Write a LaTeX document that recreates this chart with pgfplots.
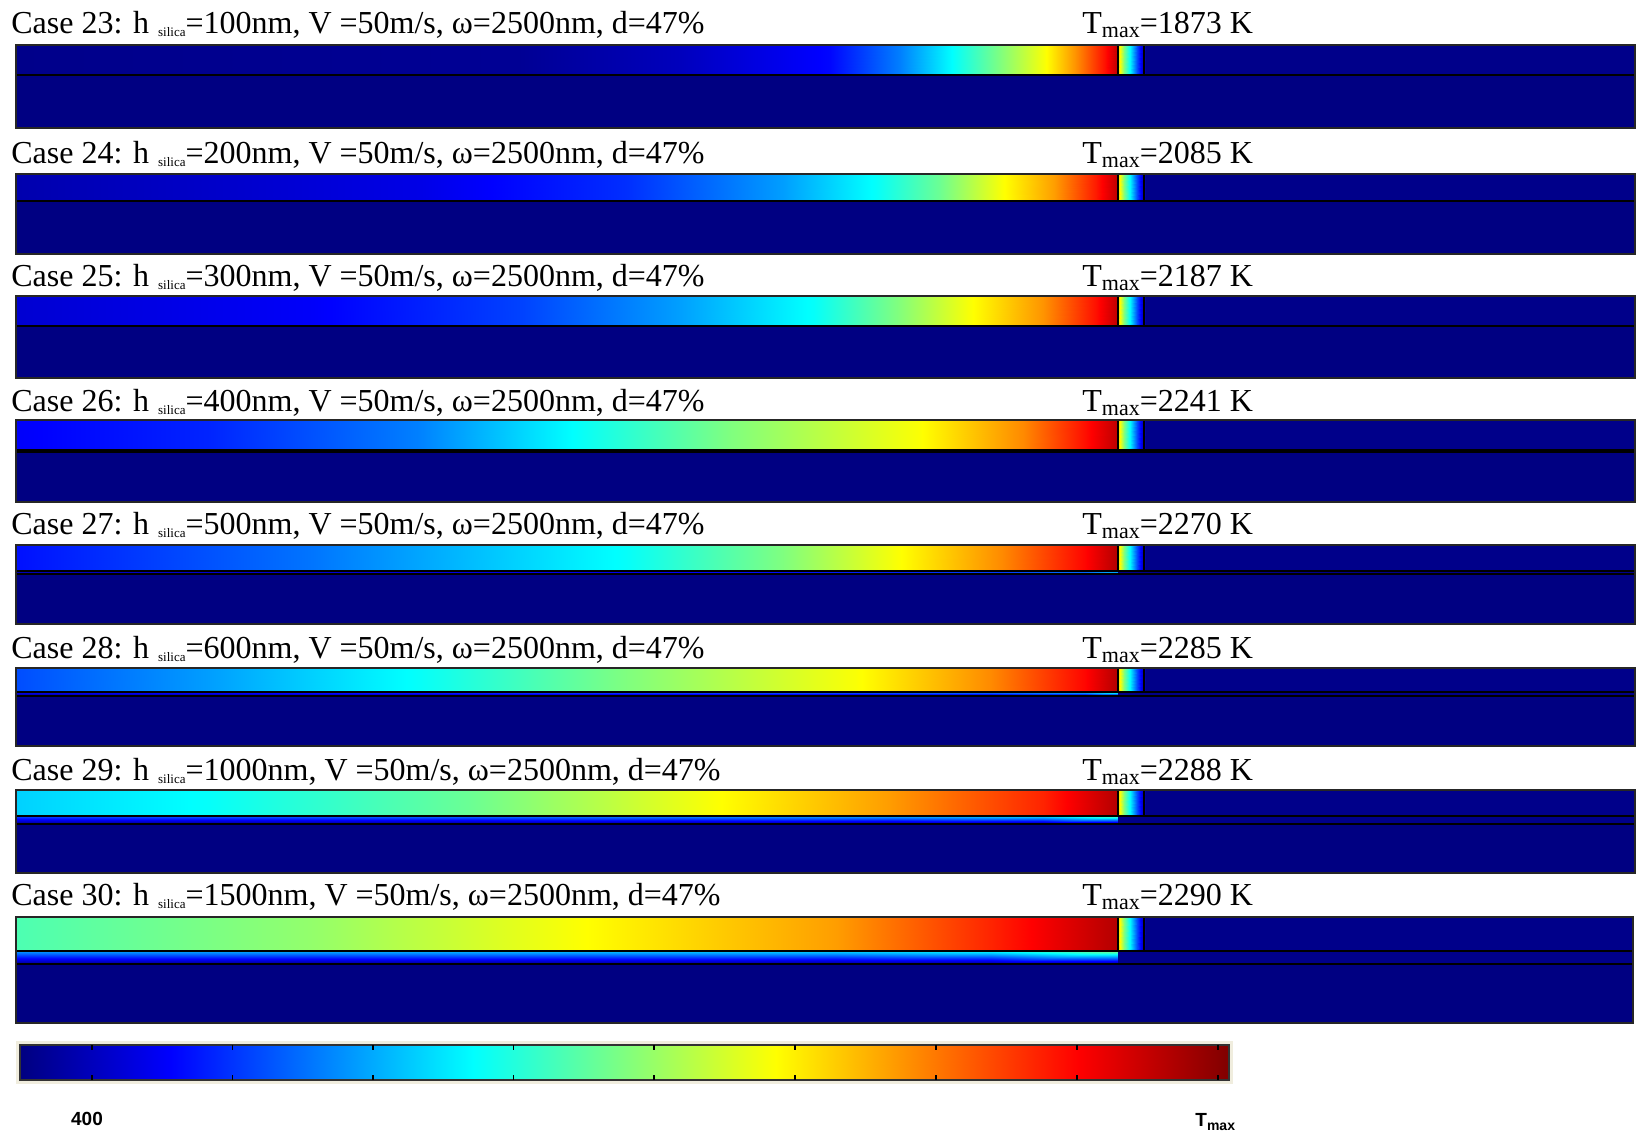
\documentclass[border=0pt]{standalone}
\usepackage{fontspec}
\setmainfont{Liberation Serif}
\setsansfont{Liberation Sans}
\usepackage{pgfplots}
\pgfplotsset{compat=1.18}
\definecolor{navy}{RGB}{0,0,130}
\definecolor{frametan}{RGB}{240,237,222}
\newcommand\ttl[2]{\fontsize{16}{18}\selectfont Case #1: h\hspace{4.5pt}\raisebox{-1.5pt}{\fontsize{6.5}{7}\selectfont silica}=#2nm, V =50m/s, ω=2500nm, d=47\%}
\newcommand\tmx[1]{\fontsize{16}{18}\selectfont T\raisebox{-2pt}{\fontsize{11}{12}\selectfont max}=#1 K}
\newcommand\panel[4]{%
  \draw[black, line width=1pt] (axis cs:16,#2) -- (axis cs:1635,#2);
  \draw[black, line width=1pt] (axis cs:16,#3) -- (axis cs:1635,#3);
  \draw[black, line width=1pt] (axis cs:1118,#1) -- (axis cs:1118,#2);
  \draw[black, line width=1pt] (axis cs:1144,#1) -- (axis cs:1144,#2);
  \draw[black!85, line width=1pt] (axis cs:16,#1) rectangle (axis cs:1635,#4);
}
\begin{document}
\begin{tikzpicture}
\begin{axis}[scale only axis, width=818pt, height=569.5pt,
  xmin=0, xmax=1636, ymin=0, ymax=1139, axis lines=none, clip=false,
  colormap/jet, point meta min=0, point meta max=1,
  heat/.style={surf, shader=interp, point meta=explicit, forget plot}]
\path (axis cs:0,0) rectangle (axis cs:1636,1139);
% ---------------- Case 23
\addplot[fill=navy, draw=none, forget plot] coordinates {(16,1064) (1635,1064) (1635,1011) (16,1011)};
\addplot[heat, mesh/rows=2] table[row sep=\\, meta=c] {x y c\\
16 1094 .01\\ 520 1094 .02\\ 680 1094 .06\\ 830 1094 .13\\ 900 1094 .25\\ 950 1094 .37\\ 1000 1094 .5\\ 1045 1094 .62\\ 1075 1094 .73\\ 1105 1094 .86\\ 1117.9 1094 .94\\ 1118.1 1094 .68\\ 1124 1094 .5\\ 1130 1094 .37\\ 1137 1094 .2\\ 1143 1094 .07\\ 1146 1094 .01\\ 1635 1094 .01\\
16 1064 .01\\ 520 1064 .02\\ 680 1064 .06\\ 830 1064 .13\\ 900 1064 .25\\ 950 1064 .37\\ 1000 1064 .5\\ 1045 1064 .62\\ 1075 1064 .73\\ 1105 1064 .86\\ 1117.9 1064 .94\\ 1118.1 1064 .68\\ 1124 1064 .5\\ 1130 1064 .37\\ 1137 1064 .2\\ 1143 1064 .07\\ 1146 1064 .01\\ 1635 1064 .01\\
};
\panel{1094}{1064}{1064}{1011}
\node[anchor=base west, inner sep=0] at (axis cs:11,1105) {\ttl{23}{100}};
\node[anchor=base west, inner sep=0] at (axis cs:1082,1105) {\tmx{1873}};
% ---------------- Case 24
\addplot[fill=navy, draw=none, forget plot] coordinates {(16,938) (1635,938) (1635,885) (16,885)};
\addplot[heat, mesh/rows=2] table[row sep=\\, meta=c] {x y c\\
16 965 .045\\ 417 965 .1\\ 626 965 .17\\ 783 965 .28\\ 876 965 .38\\ 939 965 .48\\ 1002 965 .62\\ 1054 965 .72\\ 1096 965 .85\\ 1117.9 965 .94\\ 1118.1 965 .68\\ 1124 965 .5\\ 1130 965 .37\\ 1137 965 .2\\ 1143 965 .07\\ 1146 965 .01\\ 1635 965 .01\\
16 938 .045\\ 417 938 .1\\ 626 938 .17\\ 783 938 .28\\ 876 938 .38\\ 939 938 .48\\ 1002 938 .62\\ 1054 938 .72\\ 1096 938 .85\\ 1117.9 938 .94\\ 1118.1 938 .68\\ 1124 938 .5\\ 1130 938 .37\\ 1137 938 .2\\ 1143 938 .07\\ 1146 938 .01\\ 1635 938 .01\\
};
\panel{965}{938}{938}{885}
\node[anchor=base west, inner sep=0] at (axis cs:11,975) {\ttl{24}{200}};
\node[anchor=base west, inner sep=0] at (axis cs:1082,975) {\tmx{2085}};
% ---------------- Case 25
\addplot[fill=navy, draw=none, forget plot] coordinates {(16,813) (1635,813) (1635,761) (16,761)};
\addplot[heat, mesh/rows=2] table[row sep=\\, meta=c] {x y c\\
16 843 .08\\ 313 843 .12\\ 522 843 .19\\ 678 843 .28\\ 814 843 .38\\ 897 843 .5\\ 970 843 .62\\ 1043 843 .73\\ 1096 843 .86\\ 1117.9 843 .94\\ 1118.1 843 .68\\ 1124 843 .5\\ 1130 843 .37\\ 1137 843 .2\\ 1143 843 .07\\ 1146 843 .01\\ 1635 843 .01\\
16 813 .08\\ 313 813 .12\\ 522 813 .19\\ 678 813 .28\\ 814 813 .38\\ 897 813 .5\\ 970 813 .62\\ 1043 813 .73\\ 1096 813 .86\\ 1117.9 813 .94\\ 1118.1 813 .68\\ 1124 813 .5\\ 1130 813 .37\\ 1137 813 .2\\ 1143 813 .07\\ 1146 813 .01\\ 1635 813 .01\\
};
\panel{843}{813}{813}{761}
\node[anchor=base west, inner sep=0] at (axis cs:11,852) {\ttl{25}{300}};
\node[anchor=base west, inner sep=0] at (axis cs:1082,852) {\tmx{2187}};
% ---------------- Case 26
\addplot[fill=navy, draw=none, forget plot] coordinates {(16,687) (1635,687) (1635,637) (16,637)};
\addplot[heat, mesh/rows=4] table[row sep=\\, meta=c] {x y c\\
16 719 .12\\ 209 719 .16\\ 417 719 .25\\ 553 719 .36\\ 730 719 .5\\ 918 719 .62\\ 1023 719 .74\\ 1085 719 .86\\ 1117.9 719 .94\\ 1118.1 719 .68\\ 1124 719 .5\\ 1130 719 .37\\ 1137 719 .2\\ 1143 719 .07\\ 1146 719 .01\\ 1635 719 .01\\
16 689 .12\\ 209 689 .16\\ 417 689 .25\\ 553 689 .36\\ 730 689 .5\\ 918 689 .62\\ 1023 689 .74\\ 1085 689 .86\\ 1117.9 689 .94\\ 1118.1 689 .68\\ 1124 689 .5\\ 1130 689 .37\\ 1137 689 .2\\ 1143 689 .07\\ 1146 689 .01\\ 1635 689 .01\\
16 689 .07\\ 209 689 .09\\ 417 689 .12\\ 553 689 .15\\ 730 689 .18\\ 918 689 .22\\ 1023 689 .26\\ 1085 689 .32\\ 1117.9 689 .4\\ 1118.1 689 .01\\ 1124 689 .01\\ 1130 689 .01\\ 1137 689 .01\\ 1143 689 .01\\ 1146 689 .01\\ 1635 689 .01\\
16 687 .01\\ 209 687 .01\\ 417 687 .01\\ 553 687 .01\\ 730 687 .01\\ 918 687 .01\\ 1023 687 .01\\ 1085 687 .01\\ 1117.9 687 .01\\ 1118.1 687 .01\\ 1124 687 .01\\ 1130 687 .01\\ 1137 687 .01\\ 1143 687 .01\\ 1146 687 .01\\ 1635 687 .01\\
};
\panel{719}{689}{687}{637}
\node[anchor=base west, inner sep=0] at (axis cs:11,727) {\ttl{26}{400}};
\node[anchor=base west, inner sep=0] at (axis cs:1082,727) {\tmx{2241}};
% ---------------- Case 27
\addplot[fill=navy, draw=none, forget plot] coordinates {(16,565) (1635,565) (1635,515) (16,515)};
\addplot[heat, mesh/rows=4] table[row sep=\\, meta=c] {x y c\\
16 594 .14\\ 313 594 .24\\ 626 594 .38\\ 783 594 .5\\ 897 594 .62\\ 1002 594 .74\\ 1085 594 .87\\ 1117.9 594 .95\\ 1118.1 594 .68\\ 1124 594 .5\\ 1130 594 .37\\ 1137 594 .2\\ 1143 594 .07\\ 1146 594 .01\\ 1635 594 .01\\
16 568 .14\\ 313 568 .24\\ 626 568 .38\\ 783 568 .5\\ 897 568 .62\\ 1002 568 .74\\ 1085 568 .87\\ 1117.9 568 .95\\ 1118.1 568 .68\\ 1124 568 .5\\ 1130 568 .37\\ 1137 568 .2\\ 1143 568 .07\\ 1146 568 .01\\ 1635 568 .01\\
16 568 .08\\ 313 568 .12\\ 626 568 .16\\ 783 568 .2\\ 897 568 .23\\ 1002 568 .27\\ 1085 568 .33\\ 1117.9 568 .42\\ 1118.1 568 .01\\ 1124 568 .01\\ 1130 568 .01\\ 1137 568 .01\\ 1143 568 .01\\ 1146 568 .01\\ 1635 568 .01\\
16 565 .01\\ 313 565 .01\\ 626 565 .01\\ 783 565 .01\\ 897 565 .01\\ 1002 565 .01\\ 1085 565 .01\\ 1117.9 565 .01\\ 1118.1 565 .01\\ 1124 565 .01\\ 1130 565 .01\\ 1137 565 .01\\ 1143 565 .01\\ 1146 565 .01\\ 1635 565 .01\\
};
\panel{594}{568}{565}{515}
\node[anchor=base west, inner sep=0] at (axis cs:11,604) {\ttl{27}{500}};
\node[anchor=base west, inner sep=0] at (axis cs:1082,604) {\tmx{2270}};
% ---------------- Case 28
\addplot[fill=navy, draw=none, forget plot] coordinates {(16,443) (1635,443) (1635,393) (16,393)};
\addplot[heat, mesh/rows=4] table[row sep=\\, meta=c] {x y c\\
16 471 .2\\ 209 471 .28\\ 417 471 .38\\ 626 471 .5\\ 856 471 .62\\ 991 471 .74\\ 1085 471 .87\\ 1117.9 471 .95\\ 1118.1 471 .68\\ 1124 471 .5\\ 1130 471 .37\\ 1137 471 .2\\ 1143 471 .07\\ 1146 471 .01\\ 1635 471 .01\\
16 447 .2\\ 209 447 .28\\ 417 447 .38\\ 626 447 .5\\ 856 447 .62\\ 991 447 .74\\ 1085 447 .87\\ 1117.9 447 .95\\ 1118.1 447 .68\\ 1124 447 .5\\ 1130 447 .37\\ 1137 447 .2\\ 1143 447 .07\\ 1146 447 .01\\ 1635 447 .01\\
16 447 .12\\ 209 447 .15\\ 417 447 .18\\ 626 447 .22\\ 856 447 .25\\ 991 447 .28\\ 1085 447 .34\\ 1117.9 447 .45\\ 1118.1 447 .01\\ 1124 447 .01\\ 1130 447 .01\\ 1137 447 .01\\ 1143 447 .01\\ 1146 447 .01\\ 1635 447 .01\\
16 443 .01\\ 209 443 .01\\ 417 443 .01\\ 626 443 .01\\ 856 443 .01\\ 991 443 .01\\ 1085 443 .01\\ 1117.9 443 .01\\ 1118.1 443 .01\\ 1124 443 .01\\ 1130 443 .01\\ 1137 443 .01\\ 1143 443 .01\\ 1146 443 .01\\ 1635 443 .01\\
};
\panel{471}{447}{443}{393}
\node[anchor=base west, inner sep=0] at (axis cs:11,480) {\ttl{28}{600}};
\node[anchor=base west, inner sep=0] at (axis cs:1082,480) {\tmx{2285}};
% ---------------- Case 29
\addplot[fill=navy, draw=none, forget plot] coordinates {(16,315) (1635,315) (1635,266) (16,266)};
\addplot[heat, mesh/rows=4] table[row sep=\\, meta=c] {x y c\\
16 349 .33\\ 209 349 .38\\ 470 349 .48\\ 678 349 .6\\ 887 349 .72\\ 1043 349 .84\\ 1117.9 349 .95\\ 1118.1 349 .68\\ 1124 349 .5\\ 1130 349 .37\\ 1137 349 .2\\ 1143 349 .07\\ 1146 349 .01\\ 1635 349 .01\\
16 323 .33\\ 209 323 .38\\ 470 323 .48\\ 678 323 .6\\ 887 323 .72\\ 1043 323 .84\\ 1117.9 323 .95\\ 1118.1 323 .68\\ 1124 323 .5\\ 1130 323 .37\\ 1137 323 .2\\ 1143 323 .07\\ 1146 323 .01\\ 1635 323 .01\\
16 323 .2\\ 209 323 .22\\ 470 323 .24\\ 678 323 .27\\ 887 323 .3\\ 1043 323 .35\\ 1117.9 323 .47\\ 1118.1 323 .01\\ 1124 323 .01\\ 1130 323 .01\\ 1137 323 .01\\ 1143 323 .01\\ 1146 323 .01\\ 1635 323 .01\\
16 315 .01\\ 209 315 .01\\ 470 315 .01\\ 678 315 .01\\ 887 315 .01\\ 1043 315 .01\\ 1117.9 315 .01\\ 1118.1 315 .01\\ 1124 315 .01\\ 1130 315 .01\\ 1137 315 .01\\ 1143 315 .01\\ 1146 315 .01\\ 1635 315 .01\\
};
\panel{349}{323}{315}{266}
\node[anchor=base west, inner sep=0] at (axis cs:11,358) {\ttl{29}{1000}};
\node[anchor=base west, inner sep=0] at (axis cs:1082,358) {\tmx{2288}};
% ---------------- Case 30
\addplot[fill=navy, draw=none, forget plot] coordinates {(16,175) (1633,175) (1633,116) (16,116)};
\addplot[heat, mesh/rows=4] table[row sep=\\, meta=c] {x y c\\
16 222 .45\\ 313 222 .52\\ 574 222 .62\\ 835 222 .72\\ 991 222 .84\\ 1117.9 222 .95\\ 1118.1 222 .68\\ 1124 222 .5\\ 1130 222 .37\\ 1137 222 .2\\ 1143 222 .07\\ 1146 222 .01\\ 1633 222 .01\\
16 188 .45\\ 313 188 .52\\ 574 188 .62\\ 835 188 .72\\ 991 188 .84\\ 1117.9 188 .95\\ 1118.1 188 .68\\ 1124 188 .5\\ 1130 188 .37\\ 1137 188 .2\\ 1143 188 .07\\ 1146 188 .01\\ 1633 188 .01\\
16 188 .28\\ 313 188 .3\\ 574 188 .32\\ 835 188 .34\\ 991 188 .38\\ 1117.9 188 .5\\ 1118.1 188 .01\\ 1124 188 .01\\ 1130 188 .01\\ 1137 188 .01\\ 1143 188 .01\\ 1146 188 .01\\ 1633 188 .01\\
16 175 .01\\ 313 175 .01\\ 574 175 .01\\ 835 175 .01\\ 991 175 .01\\ 1117.9 175 .01\\ 1118.1 175 .01\\ 1124 175 .01\\ 1130 175 .01\\ 1137 175 .01\\ 1143 175 .01\\ 1146 175 .01\\ 1633 175 .01\\
};
\draw[black, line width=1pt] (axis cs:16,188) -- (axis cs:1633,188);
\draw[black, line width=1pt] (axis cs:16,175) -- (axis cs:1633,175);
\draw[black, line width=1pt] (axis cs:1118,222) -- (axis cs:1118,188);
\draw[black, line width=1pt] (axis cs:1144,222) -- (axis cs:1144,188);
\draw[black!85, line width=1pt] (axis cs:16,222) rectangle (axis cs:1633,116);
\node[anchor=base west, inner sep=0] at (axis cs:11,233) {\ttl{30}{1500}};
\node[anchor=base west, inner sep=0] at (axis cs:1082,233) {\tmx{2290}};
% ---------------- colour bar
\addplot[fill=frametan, draw=none, forget plot] coordinates {(16,98) (1233,98) (1233,55) (16,55)};
\addplot[heat, mesh/rows=2] table[row sep=\\, meta=c] {x y c\\
20 94 0\\ 171 94 .125\\ 473 94 .375\\ 776 94 .625\\ 1078 94 .875\\ 1229 94 1\\
20 59 0\\ 171 59 .125\\ 473 59 .375\\ 776 59 .625\\ 1078 59 .875\\ 1229 59 1\\
};
\draw[black!80, line width=0.6pt] (axis cs:20,94) rectangle (axis cs:1229,59);
\draw[black, line width=0.8pt] (axis cs:92,94) -- (axis cs:92,89) (axis cs:92,59) -- (axis cs:92,64)
 (axis cs:232.5,94) -- (axis cs:232.5,89) (axis cs:232.5,59) -- (axis cs:232.5,64)
 (axis cs:373,94) -- (axis cs:373,89) (axis cs:373,59) -- (axis cs:373,64)
 (axis cs:513.5,94) -- (axis cs:513.5,89) (axis cs:513.5,59) -- (axis cs:513.5,64)
 (axis cs:654,94) -- (axis cs:654,89) (axis cs:654,59) -- (axis cs:654,64)
 (axis cs:795,94) -- (axis cs:795,89) (axis cs:795,59) -- (axis cs:795,64)
 (axis cs:936,94) -- (axis cs:936,89) (axis cs:936,59) -- (axis cs:936,64)
 (axis cs:1077,94) -- (axis cs:1077,89) (axis cs:1077,59) -- (axis cs:1077,64)
 (axis cs:1218,94) -- (axis cs:1218,89) (axis cs:1218,59) -- (axis cs:1218,64);
\node[anchor=base, inner sep=0] at (axis cs:87,14) {\sffamily\bfseries\fontsize{9.5}{10}\selectfont 400};
\node[anchor=base west, inner sep=0] at (axis cs:1195,12) {\sffamily\bfseries\fontsize{9.5}{10}\selectfont T\raisebox{-1.5pt}{\fontsize{7}{8}\selectfont max}};
\end{axis}
\end{tikzpicture}
\end{document}
